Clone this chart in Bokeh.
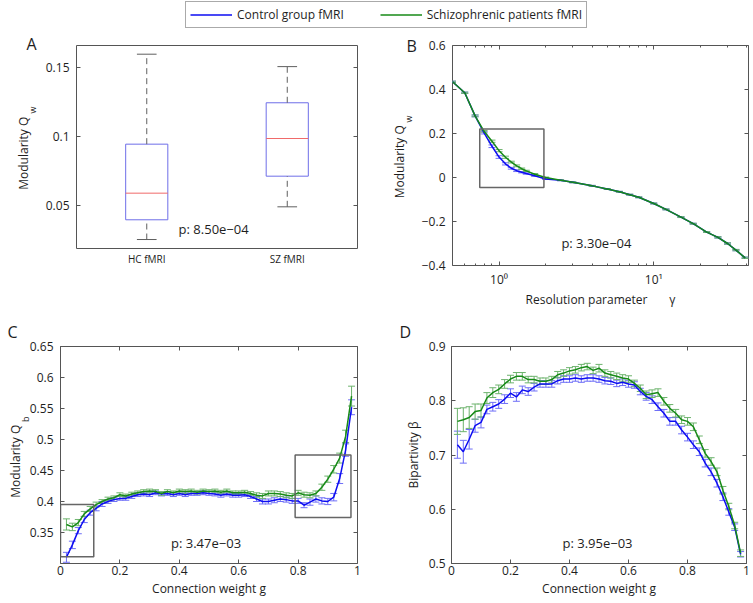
import math
from bokeh.plotting import figure
from bokeh.layouts import column, row
from bokeh.models import (ColumnDataSource, Range1d, FixedTicker, LinearAxis, LogAxis, Label, Title,
                          Legend, LegendItem, Whisker, TeeHead, CustomJSTickFormatter, BoxAnnotation)
from bokeh.embed import file_html
from bokeh.resources import INLINE

# ---------------- data ----------------
# Panel A: box plots of weighted modularity
groups = ["HC fMRI", "SZ fMRI"]
box_low = [0.0251, 0.0488]
box_q1 = [0.0394, 0.0710]
box_med = [0.0587, 0.0983]
box_q3 = [0.0942, 0.1242]
box_high = [0.1594, 0.1504]
p_text_a = "p: 8.50e\u221204"

# Panel B: modularity vs resolution parameter
gamma = [0.5, 0.6, 0.7, 0.8, 0.9, 1.0, 1.1, 1.2, 1.3, 1.4,
         1.5, 1.7, 2.0, 2.5, 3.0, 4.0, 5.0, 6.0, 7.0, 8.0,
         10, 12, 15, 18, 22, 26, 30, 34, 39]
qw_hc = [0.435, 0.385, 0.280, 0.203, 0.142, 0.093, 0.062, 0.042, 0.031, 0.024,
         0.018, 0.008, -0.007, -0.013, -0.022, -0.038, -0.052, -0.065, -0.078, -0.090,
         -0.118, -0.145, -0.180, -0.210, -0.248, -0.272, -0.300, -0.330, -0.365]
qw_sz = [0.435, 0.385, 0.280, 0.210, 0.165, 0.122, 0.092, 0.070, 0.053, 0.040,
         0.030, 0.015, 0.000, -0.012, -0.022, -0.038, -0.052, -0.065, -0.078, -0.090,
         -0.118, -0.145, -0.180, -0.210, -0.248, -0.272, -0.300, -0.330, -0.365]
qw_hc_err = [0.003, 0.003, 0.004, 0.005, 0.006, 0.006, 0.005, 0.004, 0.004, 0.003,
             0.003, 0.003, 0.002, 0.002, 0.002, 0.002, 0.002, 0.002, 0.002, 0.002,
             0.002, 0.002, 0.002, 0.002, 0.002, 0.003, 0.003, 0.003, 0.003]
qw_sz_err = [0.003, 0.003, 0.004, 0.004, 0.005, 0.005, 0.005, 0.004, 0.004, 0.003,
             0.003, 0.003, 0.002, 0.002, 0.002, 0.002, 0.002, 0.002, 0.002, 0.002,
             0.002, 0.002, 0.002, 0.002, 0.002, 0.003, 0.003, 0.003, 0.003]
p_text_b = "p: 3.30e\u221204"

# Panels C and D: connection weight g
g = [0.02, 0.04, 0.06, 0.08, 0.10, 0.12, 0.14, 0.16, 0.18, 0.20,
     0.22, 0.24, 0.26, 0.28, 0.30, 0.32, 0.34, 0.36, 0.38, 0.40,
     0.42, 0.44, 0.46, 0.48, 0.50, 0.52, 0.54, 0.56, 0.58, 0.60,
     0.62, 0.64, 0.66, 0.68, 0.70, 0.72, 0.74, 0.76, 0.78, 0.80,
     0.82, 0.84, 0.86, 0.88, 0.90, 0.92, 0.94, 0.96, 0.98]
qb_hc = [0.310, 0.330, 0.353, 0.371, 0.382, 0.389, 0.396, 0.400, 0.403, 0.405,
         0.405, 0.408, 0.411, 0.412, 0.411, 0.414, 0.412, 0.413, 0.411, 0.413,
         0.411, 0.413, 0.413, 0.414, 0.413, 0.412, 0.410, 0.412, 0.410, 0.410,
         0.411, 0.408, 0.404, 0.400, 0.400, 0.402, 0.404, 0.403, 0.401, 0.401,
         0.394, 0.399, 0.404, 0.401, 0.400, 0.407, 0.437, 0.483, 0.552]
qb_sz = [0.363, 0.359, 0.366, 0.380, 0.388, 0.395, 0.400, 0.404, 0.406, 0.411,
         0.409, 0.412, 0.414, 0.416, 0.417, 0.416, 0.413, 0.416, 0.414, 0.417,
         0.416, 0.417, 0.415, 0.417, 0.416, 0.417, 0.415, 0.417, 0.414, 0.414,
         0.415, 0.413, 0.410, 0.409, 0.413, 0.413, 0.412, 0.410, 0.409, 0.414,
         0.411, 0.410, 0.413, 0.423, 0.436, 0.452, 0.470, 0.505, 0.570]
qb_hc_err = [0.008, 0.006, 0.005, 0.005, 0.004, 0.004, 0.004, 0.003, 0.003, 0.003,
             0.003, 0.003, 0.003, 0.003, 0.003, 0.003, 0.003, 0.003, 0.003, 0.003,
             0.003, 0.003, 0.003, 0.003, 0.003, 0.003, 0.003, 0.003, 0.003, 0.003,
             0.003, 0.003, 0.004, 0.004, 0.004, 0.004, 0.004, 0.004, 0.004, 0.004,
             0.004, 0.005, 0.005, 0.005, 0.005, 0.006, 0.008, 0.010, 0.012]
qb_sz_err = [0.009, 0.006, 0.005, 0.004, 0.004, 0.004, 0.003, 0.003, 0.003, 0.003,
             0.003, 0.003, 0.003, 0.003, 0.003, 0.003, 0.003, 0.003, 0.003, 0.003,
             0.003, 0.003, 0.003, 0.003, 0.003, 0.003, 0.003, 0.003, 0.003, 0.003,
             0.003, 0.003, 0.004, 0.004, 0.004, 0.004, 0.004, 0.004, 0.004, 0.004,
             0.004, 0.004, 0.004, 0.005, 0.005, 0.006, 0.008, 0.010, 0.016]
p_text_c = "p: 3.47e\u221203"

beta_hc = [0.719, 0.706, 0.729, 0.754, 0.760, 0.784, 0.789, 0.794, 0.803, 0.814,
           0.807, 0.820, 0.817, 0.825, 0.831, 0.831, 0.831, 0.837, 0.840, 0.840,
           0.842, 0.840, 0.842, 0.842, 0.840, 0.837, 0.836, 0.832, 0.834, 0.831,
           0.829, 0.817, 0.808, 0.802, 0.789, 0.777, 0.762, 0.762, 0.746, 0.733,
           0.719, 0.706, 0.685, 0.669, 0.648, 0.623, 0.595, 0.567, 0.517]
beta_sz = [0.762, 0.765, 0.769, 0.780, 0.782, 0.805, 0.815, 0.821, 0.831, 0.840,
           0.845, 0.845, 0.839, 0.839, 0.836, 0.836, 0.839, 0.848, 0.851, 0.855,
           0.857, 0.861, 0.863, 0.856, 0.860, 0.851, 0.848, 0.845, 0.842, 0.840,
           0.832, 0.823, 0.811, 0.813, 0.815, 0.799, 0.786, 0.777, 0.765, 0.762,
           0.752, 0.728, 0.703, 0.688, 0.669, 0.635, 0.605, 0.570, 0.519]
beta_hc_err = [0.025, 0.021, 0.018, 0.012, 0.010, 0.008, 0.008, 0.008, 0.008, 0.008,
               0.008, 0.007, 0.007, 0.007, 0.006, 0.006, 0.006, 0.006, 0.006, 0.006,
               0.006, 0.006, 0.006, 0.006, 0.006, 0.006, 0.006, 0.006, 0.006, 0.006,
               0.006, 0.006, 0.007, 0.007, 0.007, 0.007, 0.007, 0.007, 0.007, 0.007,
               0.007, 0.007, 0.007, 0.007, 0.007, 0.007, 0.006, 0.006, 0.005]
beta_sz_err = [0.024, 0.022, 0.020, 0.014, 0.012, 0.010, 0.009, 0.008, 0.008, 0.007,
               0.007, 0.007, 0.006, 0.006, 0.006, 0.006, 0.006, 0.006, 0.006, 0.006,
               0.006, 0.006, 0.006, 0.006, 0.007, 0.006, 0.006, 0.006, 0.006, 0.006,
               0.006, 0.006, 0.007, 0.007, 0.007, 0.007, 0.007, 0.007, 0.007, 0.007,
               0.007, 0.007, 0.007, 0.007, 0.007, 0.007, 0.006, 0.006, 0.006]
p_text_d = "p: 3.95e\u221203"

# zoom rectangles (left, right, bottom, top)
rect_b = [0.75, 1.95, -0.045, 0.22]
rect_c_left = [0.0, 0.112, 0.311, 0.395]
rect_c_right = [0.79, 0.978, 0.374, 0.475]

series_labels = ["Control group fMRI", "Schizophrenic patients fMRI"]

# ---------------- style ----------------
FONT = "Open Sans"
TXT = "#1e1e1e"
AX = "#555555"
BLUE = "#0d0df2"
GREEN = "#178a17"
ERR_BLUE = "#6f6ff7"
ERR_GREEN = "#6db36d"
BOX_C = "#6e6ee8"
MED_C = "#f06a6a"
WHISK_C = "#5f5f5f"
RECT_C = "#666666"
NBSP = "\u00a0"

NUM_JS = """
const v = Math.round(tick * 1e6) / 1e6;
const s = (v === 0) ? "0" : String(v);
return s.replace("-", "\u2212");
"""


def style_axis(ax, fs="12px", standoff=6, label_standoff=5):
    ax.axis_line_color = None
    ax.major_tick_in = 4
    ax.major_tick_out = 0
    ax.minor_tick_in = 2
    ax.minor_tick_out = 0
    ax.major_tick_line_color = AX
    ax.minor_tick_line_color = AX
    ax.major_label_text_font = FONT
    ax.major_label_text_font_size = fs
    ax.major_label_text_color = TXT
    ax.major_label_standoff = standoff
    ax.axis_label_text_font = FONT
    ax.axis_label_text_font_size = "12px"
    ax.axis_label_text_font_style = "normal"
    ax.axis_label_text_color = TXT
    ax.axis_label_standoff = label_standoff


def mirror(p, side, ticker, log=False):
    cls = LogAxis if log else LinearAxis
    ax = cls(ticker=ticker, formatter=CustomJSTickFormatter(code="return '';"))
    style_axis(ax, fs="0px", standoff=0, label_standoff=0)
    p.add_layout(ax, side)


def make_fig(xr, yr, fw, fh, lb, rb, tb, bb, xlog=False):
    p = figure(x_range=Range1d(*xr), y_range=Range1d(*yr),
               frame_width=fw, frame_height=fh,
               min_border_left=lb, min_border_right=rb,
               min_border_top=tb, min_border_bottom=bb,
               toolbar_location=None, output_backend="svg",
               x_axis_type="log" if xlog else "linear")
    p.grid.visible = False
    p.outline_line_color = AX
    p.outline_line_width = 1
    p.background_fill_color = "white"
    p.border_fill_color = "white"
    return p


def panel_letter(p, txt, offset, standoff):
    p.title.text = txt
    p.title.align = "left"
    p.title.vertical_align = "bottom"
    p.title.offset = offset
    p.title.standoff = standoff
    p.title.text_font = FONT
    p.title.text_font_size = "16px"
    p.title.text_font_style = "normal"
    p.title.text_color = TXT


def subscript(p, txt, offset, standoff):
    p.add_layout(Title(text=txt, align="right", vertical_align="bottom", offset=offset,
                       standoff=standoff, text_font=FONT, text_font_size="9px",
                       text_font_style="normal", text_color=TXT), "left")


def ptext(p, x, y, txt):
    p.add_layout(Label(x=x, y=y, text=txt, text_font=FONT, text_font_size="13px",
                       text_color=TXT, text_align="center", text_baseline="middle"))


def errbars(p, x, y, e, color):
    lo = [a - b for a, b in zip(y, e)]
    hi = [a + b for a, b in zip(y, e)]
    src = ColumnDataSource(dict(x=x, lo=lo, hi=hi))
    p.add_layout(Whisker(source=src, base="x", lower="lo", upper="hi", dimension="height",
                         line_color=color, line_width=1,
                         lower_head=TeeHead(size=7, line_color=color, line_width=1),
                         upper_head=TeeHead(size=7, line_color=color, line_width=1)))


def rect(p, r):
    p.add_layout(BoxAnnotation(left=r[0], right=r[1], bottom=r[2], top=r[3],
                               fill_alpha=0, line_color=RECT_C, line_alpha=1, line_width=1.5))


# ---------------- legend strip ----------------
leg = figure(width=753, height=31, x_range=(0, 1), y_range=(0, 1),
             toolbar_location=None, output_backend="svg", min_border=0,
             x_axis_location=None, y_axis_location=None)
leg.outline_line_color = None
leg.grid.visible = False
r_hc = leg.line(x=[-1, -2], y=[-1, -2], line_color=BLUE, line_width=1.5)
r_sz = leg.line(x=[-1, -2], y=[-1, -2], line_color=GREEN, line_width=1.5)
legend = Legend(items=[LegendItem(label=series_labels[0], renderers=[r_hc]),
                       LegendItem(label=series_labels[1], renderers=[r_sz])],
                location=(185, 3), orientation="horizontal",
                label_text_font=FONT, label_text_font_size="12px", label_text_color=TXT,
                glyph_width=42, glyph_height=17, label_height=17, label_standoff=5,
                spacing=36, padding=4, margin=0,
                border_line_color=AX, border_line_width=1, background_fill_color="white")
leg.add_layout(legend)

# ---------------- panel A ----------------
xrA = (0.5, 2.5)
yrA = (0.0186, 0.1657)
pA = make_fig(xrA, yrA, 281, 203, 76, 25, 14, 65)
xpos = [i + 1 for i in range(len(groups))]
hw = 0.15
cw = 0.07
pA.quad(left=[x - hw for x in xpos], right=[x + hw for x in xpos], bottom=box_q1, top=box_q3,
        fill_color=None, line_color=BOX_C, line_width=1)
pA.segment(x0=xpos, x1=xpos, y0=box_q3, y1=box_high, line_color=WHISK_C, line_dash="6 4", line_width=1)
pA.segment(x0=xpos, x1=xpos, y0=box_low, y1=box_q1, line_color=WHISK_C, line_dash="6 4", line_width=1)
pA.segment(x0=[x - cw for x in xpos], x1=[x + cw for x in xpos], y0=box_high, y1=box_high,
           line_color=WHISK_C, line_width=1)
pA.segment(x0=[x - cw for x in xpos], x1=[x + cw for x in xpos], y0=box_low, y1=box_low,
           line_color=WHISK_C, line_width=1)
pA.segment(x0=[x - hw for x in xpos], x1=[x + hw for x in xpos], y0=box_med, y1=box_med,
           line_color=MED_C, line_width=1)
tickA = FixedTicker(ticks=[0.05, 0.1, 0.15])
pA.yaxis.ticker = tickA
pA.yaxis.formatter = CustomJSTickFormatter(code=NUM_JS)
pA.xaxis.ticker = FixedTicker(ticks=xpos)
pA.xaxis.major_label_overrides = {xpos[i]: groups[i] for i in range(len(groups))}
style_axis(pA.yaxis[0], "12px", 7, 11)
style_axis(pA.xaxis[0], "10px", 3, 0)
pA.xaxis.major_tick_in = 0
pA.yaxis.axis_label = "Modularity Q" + NBSP * 4
mirror(pA, "right", tickA)
ptext(pA, 1.476, 0.0324, p_text_a)
panel_letter(pA, "A", -50, -19)
subscript(pA, "w", 61, -54)

# ---------------- panel B ----------------
xrB = (0.5, 41)
yrB = (-0.4, 0.6)
pB = make_fig(xrB, yrB, 296, 220, 70, 5, 12, 50, xlog=True)
errbars(pB, gamma, qw_hc, qw_hc_err, ERR_BLUE)
errbars(pB, gamma, qw_sz, qw_sz_err, ERR_GREEN)
pB.line(gamma, qw_hc, line_color=BLUE, line_width=1.5)
pB.line(gamma, qw_sz, line_color=GREEN, line_width=1.5)
rect(pB, rect_b)
tickBx = FixedTicker(ticks=[1, 10], minor_ticks=[0.6, 0.7, 0.8, 0.9, 2, 3, 4, 5, 6, 7, 8, 9, 20, 30, 40])
tickBy = FixedTicker(ticks=[-0.4, -0.2, 0, 0.2, 0.4, 0.6])
pB.xaxis.ticker = tickBx
pB.xaxis.major_label_overrides = {1: "10\u2070", 10: "10\u00b9"}
pB.yaxis.ticker = tickBy
pB.yaxis.formatter = CustomJSTickFormatter(code=NUM_JS)
style_axis(pB.xaxis[0], "12px", 5, 0)
style_axis(pB.yaxis[0], "12px", 7, 11)
pB.xaxis.axis_label = "Resolution parameter" + NBSP * 7 + "\u03b3"
pB.yaxis.axis_label = "Modularity Q" + NBSP * 4
mirror(pB, "right", tickBy)
mirror(pB, "above", tickBx, log=True)
ptext(pB, 4.26, -0.298, p_text_b)
panel_letter(pB, "B", -46, -23)
subscript(pB, "w", 70, -54)

# ---------------- panel C ----------------
xrC = (0, 1)
yrC = (0.3, 0.65)
pC = make_fig(xrC, yrC, 297, 217, 60, 39, 33, 40)
errbars(pC, g, qb_hc, qb_hc_err, ERR_BLUE)
errbars(pC, g, qb_sz, qb_sz_err, ERR_GREEN)
pC.line(g, qb_hc, line_color=BLUE, line_width=1.5)
pC.line(g, qb_sz, line_color=GREEN, line_width=1.5)
rect(pC, rect_c_left)
rect(pC, rect_c_right)
tickCx = FixedTicker(ticks=[0, 0.2, 0.4, 0.6, 0.8, 1])
tickCy = FixedTicker(ticks=[0.35, 0.4, 0.45, 0.5, 0.55, 0.6, 0.65])
pC.xaxis.ticker = tickCx
pC.yaxis.ticker = tickCy
pC.xaxis.formatter = CustomJSTickFormatter(code=NUM_JS)
pC.yaxis.formatter = CustomJSTickFormatter(code=NUM_JS)
style_axis(pC.xaxis[0], "12px", 2, 2)
style_axis(pC.yaxis[0], "12px", 7, 3)
pC.xaxis.axis_label = "Connection weight g"
pC.yaxis.axis_label = "Modularity Q" + NBSP * 4
mirror(pC, "right", tickCy)
mirror(pC, "above", tickCx)
ptext(pC, 0.49, 0.3326, p_text_c)
panel_letter(pC, "C", -53, 8)
subscript(pC, "b", 70, -56)

# ---------------- panel D ----------------
xrD = (0, 1)
yrD = (0.5, 0.9)
pD = make_fig(xrD, yrD, 295, 217, 55, 7, 33, 40)
errbars(pD, g, beta_hc, beta_hc_err, ERR_BLUE)
errbars(pD, g, beta_sz, beta_sz_err, ERR_GREEN)
pD.line(g, beta_hc, line_color=BLUE, line_width=1.5)
pD.line(g, beta_sz, line_color=GREEN, line_width=1.5)
tickDx = FixedTicker(ticks=[0, 0.2, 0.4, 0.6, 0.8, 1])
tickDy = FixedTicker(ticks=[0.5, 0.6, 0.7, 0.8, 0.9])
pD.xaxis.ticker = tickDx
pD.yaxis.ticker = tickDy
pD.xaxis.formatter = CustomJSTickFormatter(code=NUM_JS)
pD.yaxis.formatter = CustomJSTickFormatter(code=NUM_JS)
style_axis(pD.xaxis[0], "12px", 2, 2)
style_axis(pD.yaxis[0], "12px", 6, 4)
pD.xaxis.axis_label = "Connection weight g"
pD.yaxis.axis_label = "Bipartivity \u03b2"
mirror(pD, "right", tickDy)
mirror(pD, "above", tickDx)
ptext(pD, 0.495, 0.537, p_text_d)
panel_letter(pD, "D", -52, 8)

layout = column(leg, row(pA, pB), row(pC, pD))
with open("out.html", "w", encoding="utf-8") as f:
    f.write(file_html(layout, INLINE, title="Modularity and bipartivity"))
